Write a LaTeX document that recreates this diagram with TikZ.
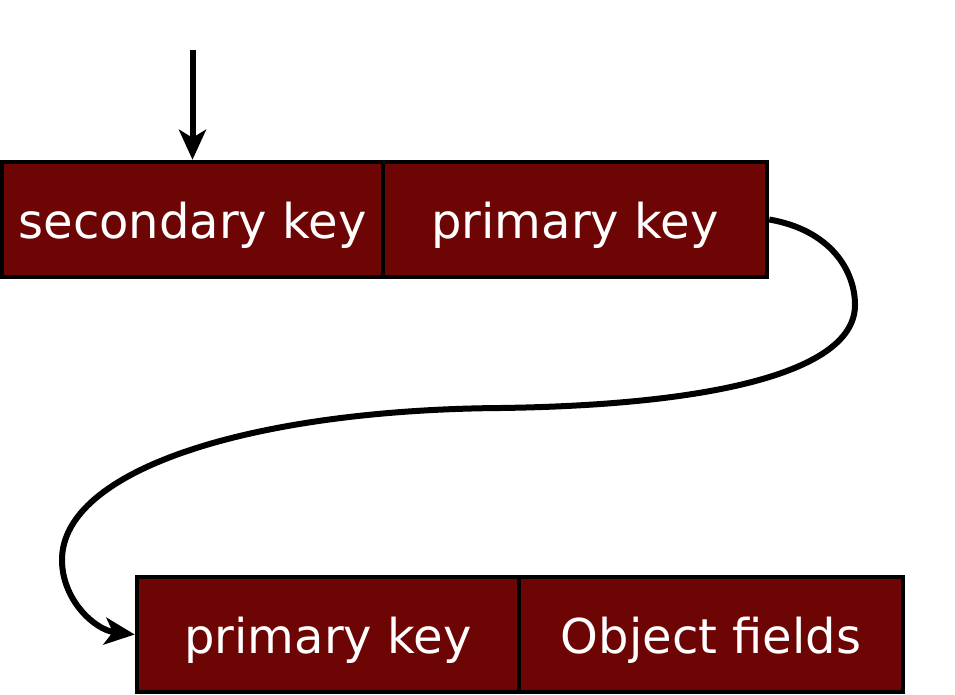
\documentclass[tikz,border=0pt]{standalone}
\usepackage{fontspec}
\setmainfont{DejaVu Sans}
\usetikzlibrary{arrows.meta}
\definecolor{boxred}{HTML}{6E0505}
\begin{document}
\begin{tikzpicture}[x=1pt,y=-1pt,
  cell/.style={draw=black,line width=4.5pt,fill=boxred,text=white,
    minimum height=115pt,inner sep=0pt,text height=40pt,text depth=3pt,
    font=\fontsize{48}{56}\selectfont},
  arr/.style={line width=6pt,-{Stealth[length=30pt,width=27pt,inset=8pt]}}]
\useasboundingbox (0,0) rectangle (955,694);
\node[cell,minimum width=381pt] (sk) at (192.5,219.5) {secondary key};
\node[cell,minimum width=384pt] (pk1) at (575,219.5) {primary key};
\node[cell,minimum width=382pt] (pk2) at (328,634.5) {primary key};
\node[cell,minimum width=384pt] (of) at (711,634.5) {Object fields};
\coordinate (top) at (192.5,50);
\draw[arr] (top) -- (sk.north);
\draw[arr] (pk1.east) .. controls (830,230) and (855,270) .. (855,305)
  .. controls (855,370) and (720,405) .. (500,408)
  .. controls (250,410) and (62,470) .. (62,560)
  .. controls (62,600) and (95,630) .. (pk2.west);
\end{tikzpicture}
\end{document}
